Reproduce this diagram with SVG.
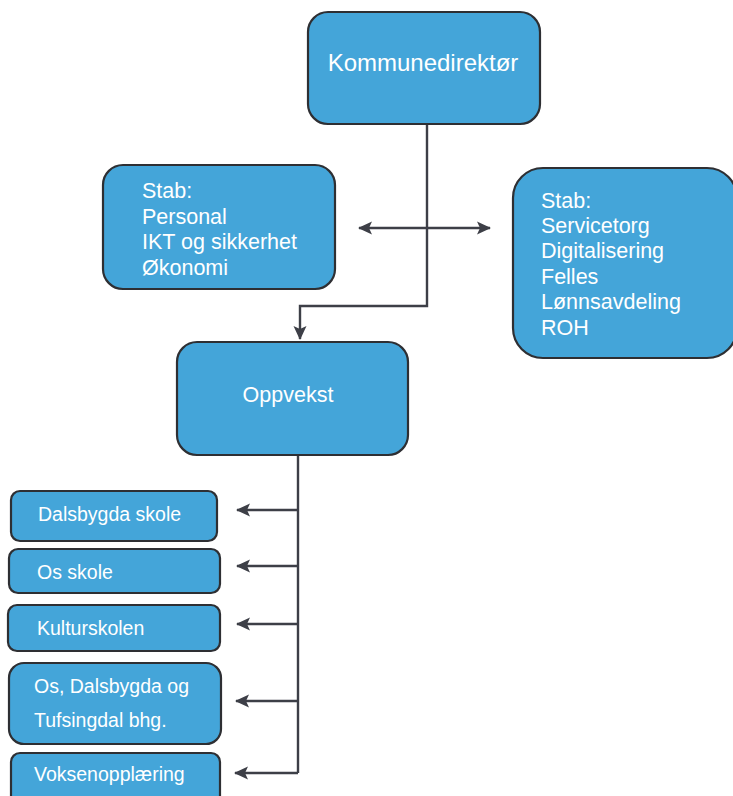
<svg xmlns="http://www.w3.org/2000/svg" width="733" height="796" viewBox="0 0 733 796">
<defs>
<style>
.box{fill:#44A5D9;stroke:#2e2f33;stroke-width:2.2}
.t{font-family:"Liberation Sans",Arial,sans-serif;fill:#ffffff}
.ln{fill:none;stroke:#3d3f47;stroke-width:2.4}
</style>
<marker id="ah" viewBox="0 0 14 14" refX="13" refY="7" markerWidth="14" markerHeight="14" markerUnits="userSpaceOnUse" orient="auto-start-reverse">
<path d="M0,0.5 L14,7 L0,13.5 L3,7 Z" fill="#3d3f47"/>
</marker>
</defs>
<rect width="733" height="796" fill="#ffffff"/>
<g id="connectors">
<path class="ln" d="M427,124 V306 H300 V339" marker-end="url(#ah)"/>
<path class="ln" d="M359,228 H490" marker-start="url(#ah)" marker-end="url(#ah)"/>
<path class="ln" d="M298,455 V773"/>
<path class="ln" d="M298,510 H237" marker-end="url(#ah)"/>
<path class="ln" d="M298,566 H237" marker-end="url(#ah)"/>
<path class="ln" d="M298,624 H237" marker-end="url(#ah)"/>
<path class="ln" d="M298,701 H236" marker-end="url(#ah)"/>
<path class="ln" d="M298,773 H235" marker-end="url(#ah)"/>
</g>
<g id="kommunedirektor">
<rect class="box" x="308" y="12" width="232" height="112" rx="20"/>
<text class="t" x="423" y="71" font-size="24" text-anchor="middle">Kommunedirektør</text>
</g>
<g id="stab-left">
<rect class="box" x="103" y="165" width="232" height="124" rx="20"/>
<text class="t" x="142" y="198" font-size="21.5">Stab:</text>
<text class="t" x="142" y="224" font-size="21.5">Personal</text>
<text class="t" x="142" y="249" font-size="21.5">IKT og sikkerhet</text>
<text class="t" x="142" y="275" font-size="21.5">Økonomi</text>
</g>
<g id="stab-right">
<rect class="box" x="513" y="168" width="224" height="190" rx="30"/>
<text class="t" x="541" y="208" font-size="21.5">Stab:</text>
<text class="t" x="541" y="233" font-size="21.5">Servicetorg</text>
<text class="t" x="541" y="258" font-size="21.5">Digitalisering</text>
<text class="t" x="541" y="284" font-size="21.5">Felles</text>
<text class="t" x="541" y="309" font-size="21.5">Lønnsavdeling</text>
<text class="t" x="541" y="335" font-size="21.5">ROH</text>
</g>
<g id="oppvekst">
<rect class="box" x="177" y="342" width="231" height="113" rx="20"/>
<text class="t" x="288" y="402" font-size="21.5" text-anchor="middle">Oppvekst</text>
</g>
<g id="dalsbygda-skole">
<rect class="box" x="11" y="491" width="206" height="50" rx="9"/>
<text class="t" x="38" y="521" font-size="19.5">Dalsbygda skole</text>
</g>
<g id="os-skole">
<rect class="box" x="9" y="549" width="211" height="44" rx="9"/>
<text class="t" x="37" y="579" font-size="19.5">Os skole</text>
</g>
<g id="kulturskolen">
<rect class="box" x="8" y="605" width="212" height="46" rx="9"/>
<text class="t" x="37" y="635" font-size="19.5">Kulturskolen</text>
</g>
<g id="barnehager">
<rect class="box" x="9" y="663" width="212" height="81" rx="15"/>
<text class="t" x="34" y="693" font-size="19.5">Os, Dalsbygda og</text>
<text class="t" x="34" y="727" font-size="19.5">Tufsingdal bhg.</text>
</g>
<g id="voksenopplaering">
<rect class="box" x="11" y="753" width="209" height="60" rx="9"/>
<text class="t" x="34" y="781" font-size="19.5">Voksenopplæring</text>
</g>
</svg>
